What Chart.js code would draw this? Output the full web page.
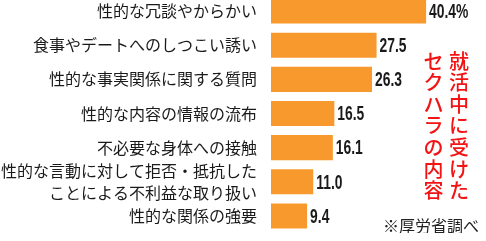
<!DOCTYPE html>
<html><head><meta charset="utf-8">
<script src="https://cdn.jsdelivr.net/npm/chart.js@4"></script>
<style>
html,body{margin:0;padding:0;background:#fff;overflow:hidden;}
#wrap{position:absolute;left:0;top:-6px;width:486px;height:239px;}
</style></head>
<body>
<div id="wrap"><canvas id="c"></canvas></div>
<script>
const categories = [
  "性的な冗談やからかい",
  "食事やデートへのしつこい誘い",
  "性的な事実関係に関する質問",
  "性的な内容の情報の流布",
  "不必要な身体への接触",
  ["性的な言動に対して拒否・抵抗した", "ことによる不利益な取り扱い"],
  "性的な関係の強要"
];
const values = [40.4, 27.5, 26.3, 16.5, 16.1, 11.0, 9.4];
const valueLabels = ["40.4%", "27.5", "26.3", "16.5", "16.1", "11.0", "9.4"];
const titleRight = "就活中に受けた";
const titleLeft = "セクハラの内容";
const sourceNote = "※厚労省調べ";

const JP = '"Noto Sans CJK JP", "Noto Sans CJK SC", sans-serif';

const valuePlugin = {
  id: 'valueLabels',
  afterDatasetsDraw(chart) {
    const ctx = chart.ctx;
    const meta = chart.getDatasetMeta(0);
    ctx.save();
    ctx.fillStyle = '#1a1a1a';
    ctx.font = 'bold 21px "Liberation Sans", Arial, sans-serif';
    ctx.textBaseline = 'middle';
    ctx.textAlign = 'left';
    meta.data.forEach((bar, i) => {
      ctx.save();
      ctx.translate(bar.x + 3, bar.y + 1);
      ctx.scale(0.66, 1);
      ctx.fillText(valueLabels[i], 0, 0);
      ctx.restore();
    });
    ctx.restore();
  }
};

const titlePlugin = {
  id: 'titles',
  afterDraw(chart) {
    const ctx = chart.ctx;
    ctx.save();
    ctx.fillStyle = '#f21414';
    ctx.font = '500 20px ' + JP;
    ctx.textAlign = 'center';
    ctx.textBaseline = 'top';
    const off = 6; // wrapper offset
    const pitch = 21.6;
    [...titleRight].forEach((ch, i) => ctx.fillText(ch, 459, 51 + off + i * pitch));
    [...titleLeft].forEach((ch, i) => ctx.fillText(ch, 433.5, 51 + off + i * pitch));
    ctx.fillStyle = '#222';
    ctx.font = '16px ' + JP;
    ctx.textAlign = 'right';
    ctx.textBaseline = 'alphabetic';
    ctx.fillText(sourceNote, 479, 232 + off);
    ctx.restore();
  }
};

new Chart(document.getElementById('c'), {
  type: 'bar',
  data: {
    labels: categories,
    datasets: [{
      data: values,
      backgroundColor: '#F8992E',
      borderWidth: 0,
      barPercentage: 0.735,
      categoryPercentage: 1.0
    }]
  },
  options: {
    indexAxis: 'y',
    responsive: true,
    maintainAspectRatio: false,
    animation: false,
    layout: { padding: 0 },
    plugins: { legend: { display: false }, tooltip: { enabled: false } },
    scales: {
      x: {
        min: 0, max: 56,
        display: false
      },
      y: {
        grid: { display: false, drawTicks: false },
        border: { display: false },
        afterFit(scale) {
          scale.width = 271;
          scale.paddingTop = 0;
          scale.paddingBottom = 0;
        },
        ticks: {
          autoSkip: false,
          padding: 14,
          color: '#1a1a1a',
          font: { family: JP, size: 16, lineHeight: 1.38 }
        }
      }
    }
  },
  plugins: [valuePlugin, titlePlugin]
});
</script>
</body></html>
